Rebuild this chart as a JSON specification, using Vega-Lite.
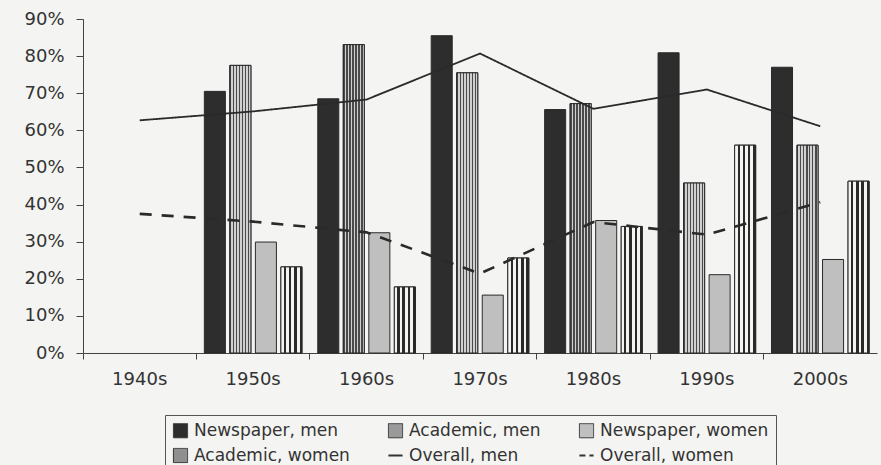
{
  "$schema": "https://vega.github.io/schema/vega-lite/v6.json",
  "width": 794,
  "height": 334,
  "autosize": {"type": "none"},
  "padding": {"left": 83, "top": 19, "right": 4, "bottom": 112},
  "background": "#f4f4f2",
  "config": {
    "font": "DejaVu Sans",
    "view": {"stroke": null},
    "axis": {"labelFont": "DejaVu Sans", "labelFontSize": 18, "labelColor": "#333333", "domainColor": "#444444", "tickColor": "#444444", "grid": false, "title": null, "labelOverlap": false}
  },
  "datasets": {
    "bars": [
      {"decade": "1950s", "series": "Newspaper, men", "value": 0.705},
      {"decade": "1950s", "series": "Academic, men", "value": 0.775},
      {"decade": "1950s", "series": "Newspaper, women", "value": 0.299},
      {"decade": "1950s", "series": "Academic, women", "value": 0.232},
      {"decade": "1960s", "series": "Newspaper, men", "value": 0.685},
      {"decade": "1960s", "series": "Academic, men", "value": 0.831},
      {"decade": "1960s", "series": "Newspaper, women", "value": 0.324},
      {"decade": "1960s", "series": "Academic, women", "value": 0.178},
      {"decade": "1970s", "series": "Newspaper, men", "value": 0.855},
      {"decade": "1970s", "series": "Academic, men", "value": 0.755},
      {"decade": "1970s", "series": "Newspaper, women", "value": 0.156},
      {"decade": "1970s", "series": "Academic, women", "value": 0.256},
      {"decade": "1980s", "series": "Newspaper, men", "value": 0.656},
      {"decade": "1980s", "series": "Academic, men", "value": 0.672},
      {"decade": "1980s", "series": "Newspaper, women", "value": 0.357},
      {"decade": "1980s", "series": "Academic, women", "value": 0.341},
      {"decade": "1990s", "series": "Newspaper, men", "value": 0.809},
      {"decade": "1990s", "series": "Academic, men", "value": 0.458},
      {"decade": "1990s", "series": "Newspaper, women", "value": 0.211},
      {"decade": "1990s", "series": "Academic, women", "value": 0.56},
      {"decade": "2000s", "series": "Newspaper, men", "value": 0.77},
      {"decade": "2000s", "series": "Academic, men", "value": 0.56},
      {"decade": "2000s", "series": "Newspaper, women", "value": 0.252},
      {"decade": "2000s", "series": "Academic, women", "value": 0.463}
    ],
    "lines": [
      {"decade": "1940s", "series": "Overall, men", "value": 0.627},
      {"decade": "1950s", "series": "Overall, men", "value": 0.651},
      {"decade": "1960s", "series": "Overall, men", "value": 0.683},
      {"decade": "1970s", "series": "Overall, men", "value": 0.807},
      {"decade": "1980s", "series": "Overall, men", "value": 0.658},
      {"decade": "1990s", "series": "Overall, men", "value": 0.71},
      {"decade": "2000s", "series": "Overall, men", "value": 0.611},
      {"decade": "1940s", "series": "Overall, women", "value": 0.375},
      {"decade": "1950s", "series": "Overall, women", "value": 0.354},
      {"decade": "1960s", "series": "Overall, women", "value": 0.325},
      {"decade": "1970s", "series": "Overall, women", "value": 0.214},
      {"decade": "1980s", "series": "Overall, women", "value": 0.353},
      {"decade": "1990s", "series": "Overall, women", "value": 0.319},
      {"decade": "2000s", "series": "Overall, women", "value": 0.406}
    ]
  },
  "resolve": {"axis": {"x": "independent"}},
  "layer": [
    {
      "data": {"name": "bars"},
      "mark": {"type": "bar", "stroke": "#2a2a2a", "strokeWidth": 1},
      "encoding": {
        "x": {
          "field": "decade", "type": "nominal",
          "scale": {"domain": ["1940s", "1950s", "1960s", "1970s", "1980s", "1990s", "2000s"], "paddingInner": 0, "paddingOuter": 0},
          "axis": {"orient": "bottom", "ticks": false, "labelAngle": 0, "labelPadding": 17, "domain": true}
        },
        "xOffset": {
          "field": "series",
          "scale": {"domain": ["Newspaper, men", "Academic, men", "Newspaper, women", "Academic, women"], "paddingInner": 0.176, "paddingOuter": 0.31}
        },
        "y": {
          "field": "value", "type": "quantitative",
          "scale": {"domain": [0, 0.9], "nice": false},
          "axis": {"values": [0, 0.1, 0.2, 0.3, 0.4, 0.5, 0.6, 0.7, 0.8, 0.9], "format": ".0%", "tickSize": 7, "labelPadding": 12, "labelOverlap": false}
        },
        "fill": {
          "field": "series", "type": "nominal",
          "scale": {
            "domain": ["Newspaper, men", "Academic, men", "Newspaper, women", "Academic, women", "Overall, men", "Overall, women"],
            "range": ["#2d2d2d", "#9a9a9a", "#bfbfbf", "#8f8f8f", "#333333", "#333333"]
          },
          "legend": {
            "orient": "none", "legendX": 82, "legendY": 396,
            "direction": "horizontal", "columns": 3, "title": null,
            "strokeColor": "#555555", "padding": 7,
            "labelFont": "DejaVu Sans", "labelFontSize": 17, "labelColor": "#333333", "labelLimit": 300, "labelOffset": 5,
            "symbolSize": 200, "symbolType": "square", "symbolStrokeColor": "#333333", "symbolStrokeWidth": 1,
            "columnPadding": 34, "rowPadding": 6,
            "encode": {
              "symbols": {
                "update": {
                  "shape": {"signal": "(datum.value === 'Overall, men' || datum.value === 'Overall, women') ? 'stroke' : 'square'"},
                  "strokeDash": {"signal": "datum.value === 'Overall, women' ? [6, 4] : [1, 0]"},
                  "strokeWidth": {"signal": "(datum.value === 'Overall, men' || datum.value === 'Overall, women') ? 2 : 1"},
                  "stroke": {"value": "#333333"}
                }
              }
            }
          }
        }
      }
    },
    {
      "data": {"name": "bars"},
      "transform": [{"filter": "datum.series === 'Academic, men' || datum.series === 'Academic, women'"}],
      "mark": {"type": "bar", "stroke": "#2a2a2a", "strokeWidth": 1},
      "encoding": {
        "x": {"field": "decade", "type": "nominal", "axis": null},
        "xOffset": {"field": "series"},
        "y": {
          "field": "value", "type": "quantitative",
          "axis": {"values": [0, 0.1, 0.2, 0.3, 0.4, 0.5, 0.6, 0.7, 0.8, 0.9], "format": ".0%", "tickSize": 7, "labelPadding": 12, "labelOverlap": false}
        },
        "fill": {
          "condition": {
            "test": "datum.series === 'Academic, men'",
            "value": {"gradient": "linear", "x1": 0, "y1": 0, "x2": 1, "y2": 0, "stops": [
              {"offset": 0, "color": "#4a4a4a"}, {"offset": 0.07, "color": "#4a4a4a"}, {"offset": 0.07, "color": "#d0d0d0"}, {"offset": 0.143, "color": "#d0d0d0"},
              {"offset": 0.143, "color": "#4a4a4a"}, {"offset": 0.213, "color": "#4a4a4a"}, {"offset": 0.213, "color": "#d0d0d0"}, {"offset": 0.286, "color": "#d0d0d0"},
              {"offset": 0.286, "color": "#4a4a4a"}, {"offset": 0.356, "color": "#4a4a4a"}, {"offset": 0.356, "color": "#d0d0d0"}, {"offset": 0.429, "color": "#d0d0d0"},
              {"offset": 0.429, "color": "#4a4a4a"}, {"offset": 0.499, "color": "#4a4a4a"}, {"offset": 0.499, "color": "#d0d0d0"}, {"offset": 0.571, "color": "#d0d0d0"},
              {"offset": 0.571, "color": "#4a4a4a"}, {"offset": 0.641, "color": "#4a4a4a"}, {"offset": 0.641, "color": "#d0d0d0"}, {"offset": 0.714, "color": "#d0d0d0"},
              {"offset": 0.714, "color": "#4a4a4a"}, {"offset": 0.784, "color": "#4a4a4a"}, {"offset": 0.784, "color": "#d0d0d0"}, {"offset": 0.857, "color": "#d0d0d0"},
              {"offset": 0.857, "color": "#4a4a4a"}, {"offset": 0.927, "color": "#4a4a4a"}, {"offset": 0.927, "color": "#d0d0d0"}, {"offset": 1, "color": "#d0d0d0"}
            ]}
          },
          "value": {"gradient": "linear", "x1": 0, "y1": 0, "x2": 1, "y2": 0, "stops": [
            {"offset": 0, "color": "#f4f4f2"}, {"offset": 0.1375, "color": "#f4f4f2"}, {"offset": 0.1375, "color": "#2a2a2a"}, {"offset": 0.25, "color": "#2a2a2a"},
            {"offset": 0.25, "color": "#f4f4f2"}, {"offset": 0.3875, "color": "#f4f4f2"}, {"offset": 0.3875, "color": "#2a2a2a"}, {"offset": 0.5, "color": "#2a2a2a"},
            {"offset": 0.5, "color": "#f4f4f2"}, {"offset": 0.6375, "color": "#f4f4f2"}, {"offset": 0.6375, "color": "#2a2a2a"}, {"offset": 0.75, "color": "#2a2a2a"},
            {"offset": 0.75, "color": "#f4f4f2"}, {"offset": 0.8875, "color": "#f4f4f2"}, {"offset": 0.8875, "color": "#2a2a2a"}, {"offset": 1, "color": "#2a2a2a"}
          ]}
        }
      }
    },
    {
      "data": {"name": "lines"},
      "mark": {"type": "line", "stroke": "#2a2a2a"},
      "encoding": {
        "x": {
          "field": "decade", "type": "nominal",
          "axis": {"orient": "bottom", "labels": false, "ticks": true, "tickSize": 6, "domain": false, "bandPosition": 0}
        },
        "y": {
          "field": "value", "type": "quantitative",
          "axis": {"values": [0, 0.1, 0.2, 0.3, 0.4, 0.5, 0.6, 0.7, 0.8, 0.9], "format": ".0%", "tickSize": 7, "labelPadding": 12, "labelOverlap": false}
        },
        "detail": {"field": "series"},
        "strokeDash": {"field": "series", "type": "nominal", "scale": {"domain": ["Overall, men", "Overall, women"], "range": [[1, 0], [12, 10]]}, "legend": null},
        "strokeWidth": {"field": "series", "type": "nominal", "scale": {"domain": ["Overall, men", "Overall, women"], "range": [1.8, 2.6]}, "legend": null}
      }
    }
  ]
}
